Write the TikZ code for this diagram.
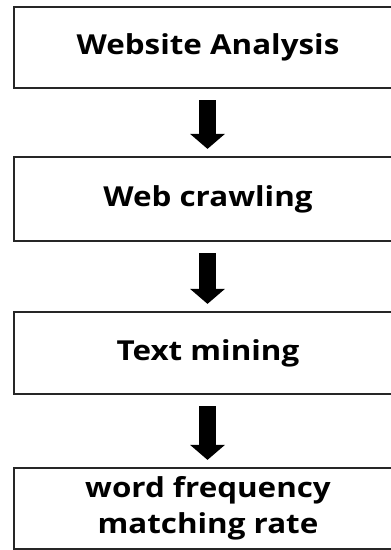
\documentclass[tikz,border=0pt]{standalone}
\usepackage{fontspec}
\setmainfont[FakeStretch=1.14]{Open Sans}
\usetikzlibrary{arrows.meta}
\begin{document}
\begin{tikzpicture}[x=1pt,y=-1pt,
  stepbox/.style={draw=black!85, line width=2.2pt, minimum width=388pt, inner sep=0pt,
    align=center, font=\bfseries\fontsize{27.5}{36}\selectfont},
  flow/.style={line width=17pt, -{Triangle[width=34pt,length=15pt]}, shorten <=11pt, shorten >=7pt}]
\useasboundingbox (0,0) rectangle (391,550);
\clip (0,0) rectangle (391,550);
\fill[white] (0,0) rectangle (391,550);
\node[stepbox, minimum height=81pt] (b1) at (208,47.5) {Website Analysis};
\node[stepbox, minimum height=84pt] (b2) at (208,199) {Web crawling};
\node[stepbox, minimum height=82pt] (b3) at (208,353) {Text mining};
\node[stepbox, minimum height=81pt] (b4) at (208,508.5) {\raisebox{-2pt}{\begin{tabular}{@{}c@{}}word frequency\\matching rate\end{tabular}}};
\draw[flow] ([xshift=-0.5pt]b1.south) -- ([xshift=-0.5pt]b2.north);
\draw[flow] ([xshift=-0.5pt]b2.south) -- ([xshift=-0.5pt]b3.north);
\draw[flow] ([xshift=-0.5pt]b3.south) -- ([xshift=-0.5pt]b4.north);
\end{tikzpicture}
\end{document}
